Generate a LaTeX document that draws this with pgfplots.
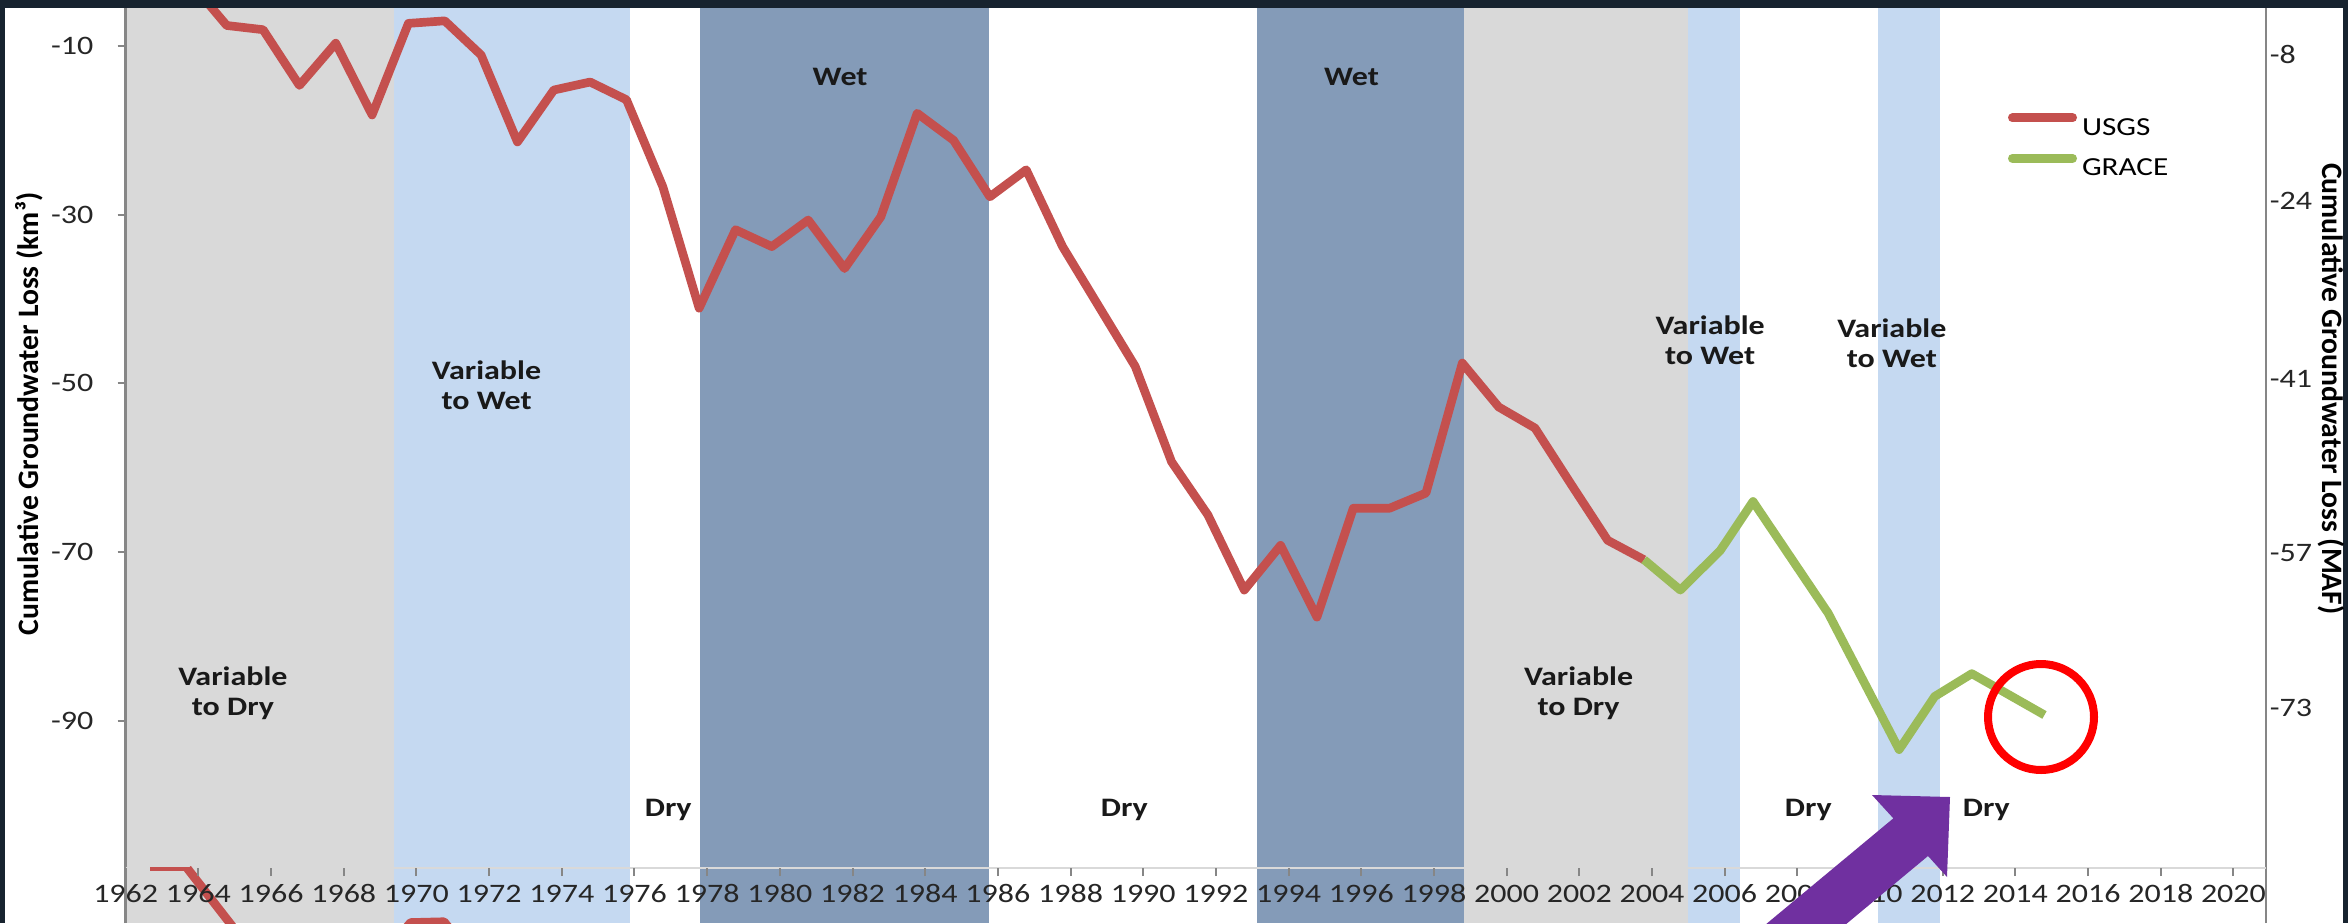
\documentclass[border=0pt]{standalone}
\usepackage{pgfplots}
\pgfplotsset{compat=1.18}
\usepackage{fontspec}
\setmainfont{Carlito}[FakeStretch=1.2]
\newfontfamily\labelfont{Carlito}
\definecolor{framecol}{HTML}{17232F}
\definecolor{bgrey}{HTML}{D9D9D9}
\definecolor{blight}{HTML}{C5D9F1}
\definecolor{bdark}{HTML}{849BB8}
\definecolor{usgscol}{HTML}{C4504E}
\definecolor{gracecol}{HTML}{9BBB59}
\definecolor{arrowpurple}{HTML}{7030A0}
\definecolor{axisgray}{HTML}{868686}
\begin{document}
\begin{tikzpicture}
\path[use as bounding box] (0,0) rectangle (704.4pt,276.9pt);
\fill[framecol] (0,0) rectangle (704.4pt,276.9pt);
\fill[white] (1.5pt,0) rectangle (702.9pt,274.5pt);

% background bands (extend below the x axis, as in the slide)
\begin{axis}[at={(37.71pt,0pt)}, anchor=south west, scale only axis,
  width=642.13pt, height=274.53pt,
  xmin=1962, xmax=2020.9, ymin=-113.95, ymax=-5.53,
  hide axis, clip=false]
\addplot[draw=none, fill=bgrey]  coordinates {(1962,-113.95) (1969.38,-113.95) (1969.38,-5.53) (1962,-5.53)} -- cycle;
\addplot[draw=none, fill=blight] coordinates {(1969.38,-113.95) (1975.88,-113.95) (1975.88,-5.53) (1969.38,-5.53)} -- cycle;
\addplot[draw=none, fill=bdark]  coordinates {(1977.8,-113.95) (1985.76,-113.95) (1985.76,-5.53) (1977.8,-5.53)} -- cycle;
\addplot[draw=none, fill=bdark]  coordinates {(1993.13,-113.95) (1998.82,-113.95) (1998.82,-5.53) (1993.13,-5.53)} -- cycle;
\addplot[draw=none, fill=bgrey]  coordinates {(1998.82,-113.95) (2005.0,-113.95) (2005.0,-5.53) (1998.82,-5.53)} -- cycle;
\addplot[draw=none, fill=blight] coordinates {(2005.0,-113.95) (2006.43,-113.95) (2006.43,-5.53) (2005.0,-5.53)} -- cycle;
\addplot[draw=none, fill=blight] coordinates {(2010.22,-113.95) (2011.93,-113.95) (2011.93,-5.53) (2010.22,-5.53)} -- cycle;
% axis lines
\addplot[axisgray, line width=0.75pt] coordinates {(1962,-113.95) (1962,-5.53)};
\addplot[axisgray, line width=0.6pt] coordinates {(2020.9,-113.95) (2020.9,-5.53)};
\addplot[gray!30, line width=0.4pt] coordinates {(1962,-107.43) (2020.9,-107.43)};
% pieces of the chart copy seen at the bottom of the slide
\addplot[usgscol, line width=1.2pt] coordinates {(1962.68,-107.5) (1963.78,-107.5)};
\addplot[usgscol, line width=2.6pt, line join=round] coordinates {(1963.7,-107.5) (1965.0,-114.7)};
\addplot[usgscol, line width=2.6pt, line join=round] coordinates {(1969.5,-115.6) (1969.84,-113.9) (1970.76,-113.8) (1971.1,-115.6)};
\end{axis}

% main axis
\begin{axis}[at={(37.71pt,16.5pt)}, anchor=south west, scale only axis,
  width=642.13pt, height=258pt,
  xmin=1962, xmax=2020.9, ymin=-107.43, ymax=-5.53,
  axis x line*=bottom, axis y line*=left, axis line style={-},
  x axis line style={draw=none},
  y axis line style={draw=none},
  tick align=outside, major tick length=2.4pt,
  tick style={draw=axisgray, line width=0.6pt},
  xtick={1962,1964,...,2020},
  xticklabels={1962,1964,1966,1968,1970,1972,1974,1976,1978,1980,1982,1984,1986,1988,1990,1992,1994,1996,1998,2000,2002,2004,2006,2008,2010,2012,2014,2016,2018,2020},
  ytick={-10,-30,-50,-70,-90},
  yticklabels={-10,-30,-50,-70,-90},
  tick label style={font=\fontsize{8}{9.6}\selectfont, text=black!85},
  xticklabel style={anchor=base, inner sep=0pt, yshift=-7.9pt},
  yticklabel style={anchor=east, inner sep=0pt, xshift=-7.1pt},
  ylabel={Cumulative Groundwater Loss (km³)},
  ylabel style={at={(axis description cs:-0.0452,0.528)}, anchor=center, font=\labelfont\bfseries\fontsize{8.9}{10}\selectfont, text=black},
  legend cell align=left,
  legend image code/.code={\draw[#1, line cap=round] (1.3pt,2.6pt) -- (19.4pt,2.6pt);},
  legend style={at={(0.8794,0.8413)}, anchor=west, draw=none, fill=none, inner sep=0pt, outer sep=0pt,
    font=\fontsize{7.8}{9}\selectfont, row sep=5.7pt, column sep=1.5pt,
    nodes={inner sep=0pt, text height=5.1pt, text depth=0pt}},
  ]
\addplot[usgscol, line width=2.6pt, line join=round] table {
1962.78 -2.5
1963.78 -2.5
1964.78 -7.6
1965.78 -8.1
1966.78 -14.7
1967.78 -9.7
1968.78 -18.2
1969.78 -7.35
1970.78 -7.05
1971.78 -11.1
1972.78 -21.4
1973.78 -15.25
1974.78 -14.3
1975.78 -16.4
1976.78 -26.7
1977.78 -41.1
1978.78 -31.8
1979.78 -33.8
1980.78 -30.65
1981.78 -36.4
1982.78 -30.26
1983.78 -18.0
1984.78 -21.2
1985.78 -27.9
1986.78 -24.7
1987.78 -33.8
1988.78 -40.9
1989.78 -48.0
1990.78 -59.3
1991.78 -65.6
1992.78 -74.5
1993.78 -69.2
1994.78 -77.7
1995.78 -64.8
1996.78 -64.8
1997.78 -63.0
1998.78 -47.6
1999.78 -52.8
2000.78 -55.3
2001.78 -62.0
2002.78 -68.6
2003.78 -70.9
};
\addlegendentry{USGS}
\addplot[gracecol, line width=2.6pt, line join=round] table {
2003.78 -70.9
2004.78 -74.5
2005.88 -69.8
2006.78 -64.0
2008.85 -77.25
2010.80 -93.4
2011.78 -87.1
2012.80 -84.4
2014.80 -89.3
};
\addlegendentry{GRACE}
\begin{scope}[every node/.style={font=\bfseries\fontsize{8}{9}\selectfont, align=center, text=black!90}]
\node at (axis cs:1964.95,-86.7) {Variable\\to Dry};
\node at (axis cs:1971.93,-50.2) {Variable\\to Wet};
\node at (axis cs:1976.93,-100.6) {Dry};
\node at (axis cs:1981.66,-13.74) {Wet};
\node at (axis cs:1989.48,-100.6) {Dry};
\node at (axis cs:1995.73,-13.74) {Wet};
\node at (axis cs:2001.98,-86.7) {Variable\\to Dry};
\node at (axis cs:2005.6,-44.9) {Variable\\to Wet};
\node at (axis cs:2010.6,-45.3) {Variable\\to Wet};
\node at (axis cs:2008.3,-100.6) {Dry};
\node at (axis cs:2013.2,-100.6) {Dry};
\end{scope}
\end{axis}

% right axis (MAF)
\begin{axis}[at={(37.71pt,16.5pt)}, anchor=south west, scale only axis,
  width=642.13pt, height=258pt,
  xmin=1962, xmax=2020.9, ymin=-107.43, ymax=-5.53,
  axis x line=none, axis y line*=right, axis line style={-},
  y axis line style={draw=none},
  major tick length=0pt,
  ytick={-10.98,-28.4,-49.5,-70.1,-88.5},
  yticklabels={-8,-24,-41,-57,-73},
  yticklabel style={font=\fontsize{8}{9.6}\selectfont, text=black!85, anchor=west, inner sep=0pt, xshift=0.9pt},
  ylabel={Cumulative Groundwater Loss (MAF)},
  ylabel style={at={(axis description cs:1.0306,0.557)}, anchor=center, rotate=-180, font=\labelfont\bfseries\fontsize{8.9}{10}\selectfont, text=black},
  ]
\addplot[draw=none] coordinates {(1962,-50)};
\end{axis}

% slide annotations
\draw[red, line width=2.4pt] (612.3pt,61.8pt) circle (15.9pt);
\fill[arrowpurple] (585pt,37.8pt) -- (584.1pt,13.8pt) -- (578.4pt,20.1pt) -- (549.9pt,-3.6pt)
  -- (525.9pt,-3.6pt) -- (568.0pt,31.4pt) -- (561.6pt,38.4pt) -- cycle;
\end{tikzpicture}
\end{document}
